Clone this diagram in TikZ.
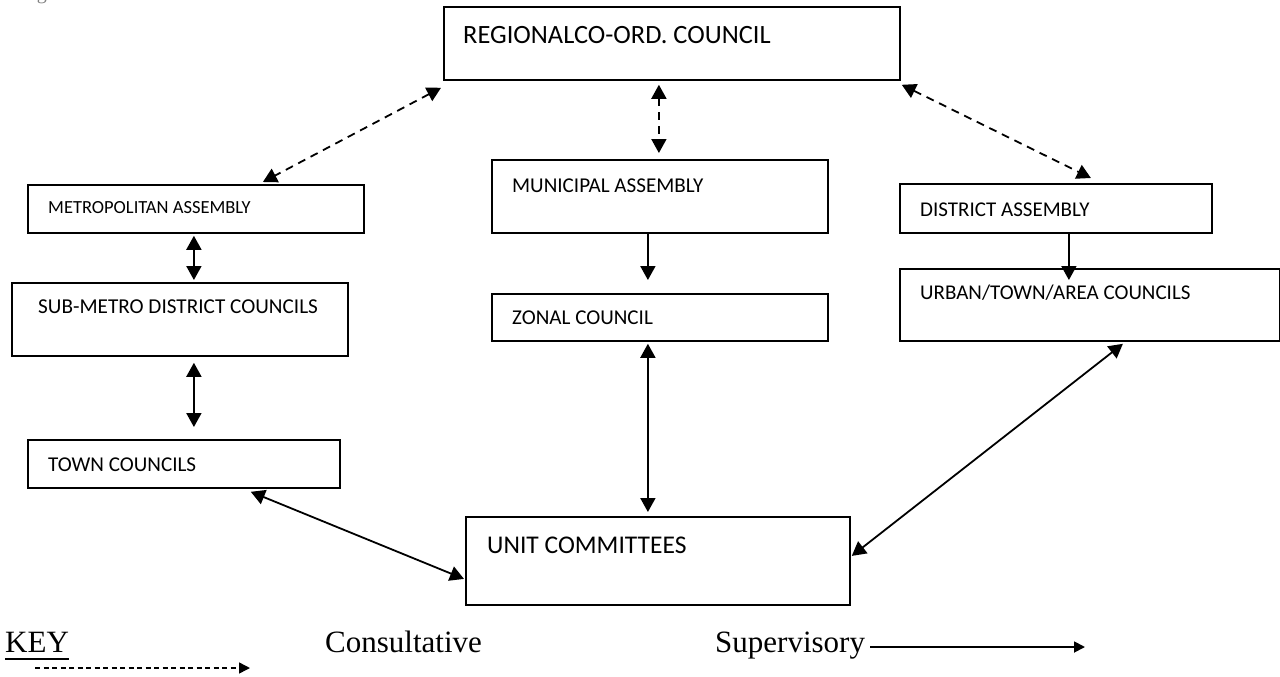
\documentclass[tikz,border=0pt]{standalone}
\usepackage{fontspec}
\setmainfont{Liberation Serif}
\newfontfamily\boxfont{Carlito}
\usetikzlibrary{arrows.meta,calc}
\begin{document}
\begin{tikzpicture}[x=1pt,y=-1pt,
  box/.style={draw, line width=1.8pt, rectangle, inner sep=0pt, anchor=north west},
  lbl/.style={anchor=base west, inner sep=0pt},
  twoway/.style={line width=1.8pt, {Triangle[length=14pt,width=15pt]}-{Triangle[length=14pt,width=15pt]}},
  oneway/.style={line width=1.8pt, -{Triangle[length=14pt,width=15pt]}},
  consult/.style={line width=1.8pt, dash pattern=on 8pt off 6pt, {Triangle[length=14pt,width=15pt]}-{Triangle[length=14pt,width=15pt]}},
  keydash/.style={line width=1.5pt, dash pattern=on 5pt off 3.5pt, -{Triangle[length=11pt,width=11pt]}},
  keysolid/.style={line width=1.8pt, -{Triangle[length=11pt,width=11pt]}},
  keytext/.style={anchor=base west, inner sep=0pt, font=\fontsize{31}{36}\selectfont}
]
\clip (0,0) rectangle (1280,677);
\fill[white] (0,0) rectangle (1280,677);

% cut-off caption
\node[lbl, text=gray, font=\fontsize{20}{24}\selectfont] (cap) at (20,0) {Figure 1: The New Local Government Structure};

% boxes
\node[box, minimum width=456pt, minimum height=73pt] (reg) at (443,6) {};
\node[box, minimum width=336pt, minimum height=48pt] (metro) at (27,184) {};
\node[box, minimum width=336pt, minimum height=73pt] (sub) at (11,282) {};
\node[box, minimum width=312pt, minimum height=48pt] (town) at (27,439) {};
\node[box, minimum width=336pt, minimum height=73pt] (mun) at (491,159) {};
\node[box, minimum width=336pt, minimum height=47pt] (zon) at (491,293) {};
\node[box, minimum width=312pt, minimum height=49pt] (dist) at (899,183) {};
\node[box, minimum width=380pt, minimum height=72pt] (urb) at (899,268) {};
\node[box, minimum width=384pt, minimum height=88pt] (unit) at (465,516) {};

% labels
\node[lbl, font=\boxfont\fontsize{26.4}{30}\selectfont] (regt) at (463,43.5) {REGIONALCO-ORD. COUNCIL};
\node[lbl, font=\boxfont\fontsize{18.5}{22}\selectfont] (metrot) at (48,213) {METROPOLITAN ASSEMBLY};
\node[lbl, font=\boxfont\fontsize{21.2}{25}\selectfont] (subt) at (38,313) {SUB-METRO DISTRICT COUNCILS};
\node[lbl, font=\boxfont\fontsize{21.1}{25}\selectfont] (townt) at (48,471) {TOWN COUNCILS};
\node[lbl, font=\boxfont\fontsize{21.1}{25}\selectfont] (munt) at (512,192) {MUNICIPAL ASSEMBLY};
\node[lbl, font=\boxfont\fontsize{21.1}{25}\selectfont] (zont) at (512,324) {ZONAL COUNCIL};
\node[lbl, font=\boxfont\fontsize{21}{25}\selectfont] (distt) at (920,216) {DISTRICT ASSEMBLY};
\node[lbl, font=\boxfont\fontsize{21}{25}\selectfont] (urbt) at (920,299) {URBAN/TOWN/AREA COUNCILS};
\node[lbl, font=\boxfont\fontsize{25.5}{30}\selectfont] (unitt) at (487,553) {UNIT COMMITTEES};

% consultative connectors
\draw[consult] ([shift={(-2,7)}]reg.south west) -- ([shift={(67,-2)}]metro.north);
\draw[consult] ([shift={(-13,4)}]reg.south) -- ([shift={(-1,-6)}]mun.north);
\draw[consult] ([shift={(1,4)}]reg.south east) -- ([shift={(35,-5)}]dist.north);

% supervisory connectors
\draw[twoway] ([shift={(-2,2)}]metro.south) -- ([shift={(14,-2)}]sub.north);
\draw[twoway] ([shift={(14,6)}]sub.south) -- ([shift={(10,-12)}]town.north);
\draw[oneway] ([shift={(-12,0)}]mun.south) -- ([shift={(-12,-13)}]zon.north);
\draw[twoway] ([shift={(-12,2)}]zon.south) -- ([shift={(-10,-4)}]unit.north);
\draw[oneway] ([shift={(13,0)}]dist.south) -- ([shift={(-21,12)}]urb.north);
\draw[twoway] ([shift={(33,2)}]urb.south) -- ([shift={(1,-5)}]unit.east);
\draw[twoway] ([shift={(-90,3)}]town.south east) -- ([shift={(-1,18)}]unit.west);

% key
\node[keytext] (key) at (5,652) {KEY};
\draw[line width=1.6pt] ([yshift=-7pt]key.base west) -- ([yshift=-7pt]key.base east);
\node[keytext] (cons) at (325,652) {Consultative};
\node[keytext] (supv) at (715,652) {Supervisory};
\coordinate (k1) at (35,668);
\coordinate (k2) at (250,668);
\coordinate (k3) at (870,647);
\coordinate (k4) at (1085,647);
\draw[keydash] (k1) -- (k2);
\draw[keysolid] (k3) -- (k4);
\end{tikzpicture}
\end{document}
